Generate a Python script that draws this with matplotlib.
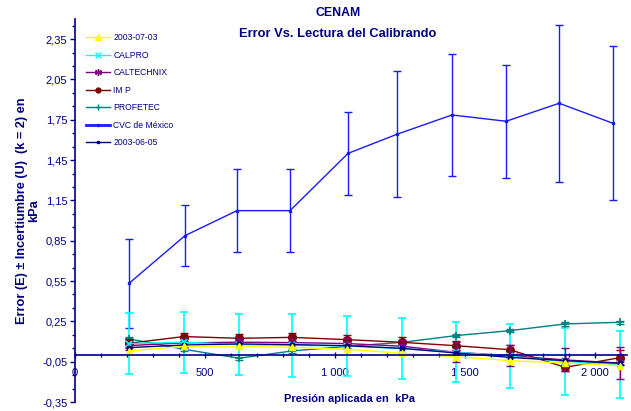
import matplotlib
matplotlib.use('Agg')
import matplotlib.pyplot as plt
from matplotlib.ticker import FixedLocator, MultipleLocator, FuncFormatter
from matplotlib.lines import Line2D

plt.rcParams['font.family'] = ['Liberation Sans', 'DejaVu Sans']

# ---------------- data ----------------
x_cvc = [208, 423, 623, 827, 1050, 1238, 1450, 1658, 1862, 2069]
x_lab = [208, 419, 631, 835, 1046, 1258, 1465, 1673, 1885, 2096]

cvc = [0.533, 0.888, 1.074, 1.074, 1.500, 1.642, 1.786, 1.739, 1.873, 1.724]
cvc_u = [0.33, 0.227, 0.31, 0.31, 0.31, 0.47, 0.457, 0.42, 0.585, 0.574]

calpro = [0.085, 0.095, 0.077, 0.072, 0.067, 0.048, 0.020, -0.009, -0.049, -0.070]
calpro_u = [0.227, 0.227, 0.229, 0.233, 0.226, 0.227, 0.224, 0.240, 0.247, 0.250]

d0703 = [0.030, 0.064, 0.064, 0.057, 0.042, 0.012, -0.013, -0.042, -0.060, -0.080]
d0605 = [0.055, 0.074, 0.082, 0.077, 0.069, 0.049, 0.015, -0.018, -0.042, -0.062]

caltech = [0.070, 0.090, 0.095, 0.092, 0.085, 0.065, 0.020, -0.005, -0.037, -0.060]
caltech_u = [0.03, 0.03, 0.03, 0.03, 0.04, 0.05, 0.075, 0.08, 0.086, 0.12]

imp = [0.087, 0.137, 0.124, 0.131, 0.114, 0.094, 0.069, 0.039, -0.092, -0.020]
imp_u = [0.03, 0.03, 0.03, 0.03, 0.035, 0.04, 0.035, 0.035, 0.03, 0.055]

profetec = [0.120, 0.042, -0.024, 0.030, 0.064, 0.094, 0.144, 0.181, 0.231, 0.243]
profetec_u = [0.012] * 10

labels = ['2003-07-03', 'CALPRO', 'CALTECHNIX', 'IM P', 'PROFETEC',
          'CVC de México', '2003-06-05']

y_major = [-0.35, -0.05, 0.25, 0.55, 0.85, 1.15, 1.45, 1.75, 2.05, 2.35]
x_major = [0, 500, 1000, 1500, 2000]
x_major_labels = ['0', '500', '1 000', '1 500', '2 000']

# ---------------- style ----------------
NAVY = '#000080'
C_Y = '#ffff00'
C_CY = '#00ffff'
C_PU = '#800080'
C_IMP = '#800000'
C_TE = '#008080'
C_CVC = '#1a1aff'
C_NV = '#000080'

fig = plt.figure(figsize=(6.31, 4.11), dpi=100)
ax = fig.add_axes([75 / 631, 9 / 411, 552 / 631, 383 / 411])
ax.set_xlim(0, 2123)
ax.set_ylim(-0.35, 2.5)

lw = 1.0
# CVC
ax.errorbar(x_cvc, cvc, yerr=cvc_u, fmt='none', ecolor=C_CVC, elinewidth=1.0,
            capsize=3, capthick=1.0, zorder=2)
ax.plot(x_cvc, cvc, color=C_CVC, lw=lw, marker='s', ms=1.6, zorder=3)
# CALPRO errorbars
ax.errorbar(x_lab, calpro, yerr=calpro_u, fmt='none', ecolor=C_CY, elinewidth=1.2,
            capsize=3, capthick=1.2, zorder=2)
# PROFETEC
ax.errorbar(x_lab, profetec, yerr=profetec_u, fmt='none', ecolor=C_TE, elinewidth=1.0,
            capsize=3, capthick=1.0, zorder=3)
ax.plot(x_lab, profetec, color=C_TE, lw=lw, marker='+', ms=6, mew=1.2, zorder=3)
# IMP
ax.errorbar(x_lab, imp, yerr=imp_u, fmt='none', ecolor=C_IMP, elinewidth=1.0,
            capsize=3, capthick=1.0, zorder=3)
ax.plot(x_lab, imp, color=C_IMP, lw=lw, marker='o', ms=5.5, zorder=3)
# CALTECHNIX
ax.errorbar(x_lab, caltech, yerr=caltech_u, fmt='none', ecolor=C_PU, elinewidth=1.0,
            capsize=3, capthick=1.0, zorder=3)
ax.plot(x_lab, caltech, color=C_PU, lw=lw, marker=(6, 2, 0), ms=6, mew=1.2, zorder=4)
# CALPRO line
ax.plot(x_lab, calpro, color=C_CY, lw=lw, marker='x', ms=5, mew=1.2, zorder=4)
# 2003-06-05
ax.plot(x_lab, d0605, color=C_NV, lw=lw, marker='s', ms=2.5, zorder=5)
# 2003-07-03
ax.plot(x_lab, d0703, color=C_Y, lw=lw, marker='^', ms=5, zorder=5)

# ---------------- axes ----------------
for s in ['top', 'right']:
    ax.spines[s].set_visible(False)
ax.spines['bottom'].set_position(('data', 0))
for s in ['left', 'bottom']:
    ax.spines[s].set_color(NAVY)
    ax.spines[s].set_linewidth(1.2)
    ax.spines[s].set_zorder(6)

ax.yaxis.set_major_locator(FixedLocator(y_major))
ax.yaxis.set_minor_locator(FixedLocator([-0.35 + 0.1 * k for k in range(29)]))
ax.yaxis.set_major_formatter(FuncFormatter(lambda v, p: f"{v:.2f}".replace('.', ',')))
ax.xaxis.set_major_locator(FixedLocator(x_major))
ax.set_xticklabels(x_major_labels)
ax.xaxis.set_minor_locator(MultipleLocator(100))

ax.tick_params(axis='y', which='major', direction='out', length=3.5, width=1,
               color=NAVY, labelcolor=NAVY, labelsize=8, pad=2)
ax.tick_params(axis='y', which='minor', direction='out', length=2.5, width=1, color=NAVY)
ax.tick_params(axis='x', which='major', direction='inout', length=5, width=1,
               color=NAVY, labelcolor=NAVY, labelsize=8, pad=7)
ax.tick_params(axis='x', which='minor', direction='inout', length=3, width=1, color=NAVY)

# ---------------- texts ----------------
fig.text(338 / 631, 1 - 13 / 411, 'CENAM', ha='center', va='center',
         fontsize=8.8, fontweight='bold', color=NAVY)
fig.text(338 / 631, 1 - 34 / 411, 'Error Vs. Lectura del Calibrando', ha='center',
         va='center', fontsize=9.3, fontweight='bold', color=NAVY)
fig.text(349 / 631, 1 - 399 / 411, 'Presión aplicada en  kPa', ha='center',
         va='center', fontsize=8, fontweight='bold', color=NAVY)
fig.text(28.5 / 631, 1 - 211 / 411, 'Error (E) ± Incertiumbre (U)  (k = 2) en\nkPa',
         rotation=90, ha='center', va='center', multialignment='center',
         linespacing=1.0, fontsize=9.2, fontweight='bold', color=NAVY)

# ---------------- legend ----------------
handles = [
    Line2D([], [], color=C_Y, lw=lw, marker='^', ms=4),
    Line2D([], [], color=C_CY, lw=lw, marker='x', ms=4, mew=1),
    Line2D([], [], color=C_PU, lw=lw, marker=(6, 2, 0), ms=5, mew=1),
    Line2D([], [], color=C_IMP, lw=lw, marker='o', ms=3.5),
    Line2D([], [], color=C_TE, lw=lw, marker='+', ms=5, mew=1),
    Line2D([], [], color=C_CVC, lw=2, marker='s', ms=2),
    Line2D([], [], color=C_NV, lw=lw, marker='s', ms=2),
]
ax.legend(handles, labels, loc='upper left', bbox_to_anchor=(86 / 631, 1 - 33 / 411),
          bbox_transform=fig.transFigure, frameon=False, fontsize=6.2,
          handlelength=2.8, handletextpad=0.35, labelspacing=0.99,
          borderaxespad=0, borderpad=0, labelcolor=NAVY)

fig.savefig('out.png', dpi=100)
